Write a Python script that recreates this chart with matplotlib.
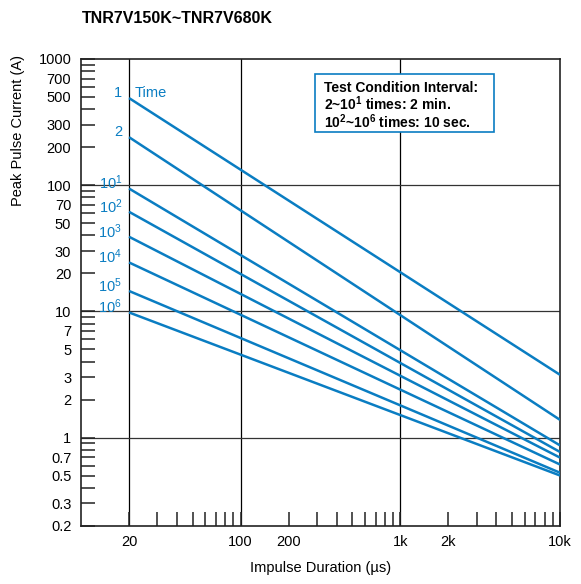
import matplotlib.pyplot as plt
import numpy as np
from matplotlib.patches import Rectangle
from matplotlib.ticker import FixedLocator, NullFormatter

plt.rcParams["font.family"] = ["Liberation Sans", "DejaVu Sans"]
plt.rcParams["mathtext.default"] = "regular"

# impulse duration end points (us)
durations = [20, 10000]
# number of times (curve labels)
curve_labels = ["1", "2", "10$^1$", "10$^2$", "10$^3$", "10$^4$", "10$^5$", "10$^6$"]
# peak pulse current (A) at 20 us and 10k us
current_start = [490, 240, 94, 61.5, 39, 24.4, 14.5, 9.8]
current_end = [3.14, 1.38, 0.866, 0.768, 0.693, 0.611, 0.526, 0.50]

x_ticks = [20, 100, 200, 1000, 2000, 10000]
x_ticklabels = ["20", "100", "200", "1k", "2k", "10k"]
x_minor = [30, 40, 50, 60, 70, 80, 90, 300, 400, 500, 600, 700, 800, 900,
           3000, 4000, 5000, 6000, 7000, 8000, 9000]
y_ticks = [0.2, 0.3, 0.5, 0.7, 1, 2, 3, 5, 7, 10, 20, 30, 50, 70, 100, 200, 300, 500, 700, 1000]
y_ticklabels = ["0.2", "0.3", "0.5", "0.7", "1", "2", "3", "5", "7", "10", "20", "30",
                "50", "70", "100", "200", "300", "500", "700", "1000"]
y_minor = [0.4, 0.6, 0.8, 0.9, 4, 6, 8, 9, 40, 60, 80, 90, 400, 600, 800, 900]
x_grid = [20, 100, 1000]
y_grid = [1, 10, 100]

note_lines = ["Test Condition Interval:", "2~10$^1$ times: 2 min.", "10$^2$~10$^6$ times: 10 sec."]

blue = "#0a7dc2"

fig = plt.figure(figsize=(5.81, 5.84), dpi=100)
ax = fig.add_axes([0.1394, 0.0998, 0.8245, 0.7992])
ax.set_xscale("log")
ax.set_yscale("log")
ax.set_xlim(10, 10000)
ax.set_ylim(0.2, 1000)

for v in x_grid:
    ax.axvline(v, color="black", lw=0.9, zorder=1)
for v in y_grid:
    ax.axhline(v, color="#333333", lw=0.9, zorder=1)

for s, e in zip(current_start, current_end):
    ax.plot(durations, [s, e], color=blue, lw=1.8, solid_capstyle="butt", zorder=3)

# curve labels left of the 20 us grid line
for lab, s in zip(curve_labels, current_start):
    ax.annotate(lab, (20, s), xytext=(-5, 4), textcoords="offset points",
                ha="right", va="center", color=blue, fontsize=10.5)
ax.annotate("Time", (20, current_start[0]), xytext=(4, 4), textcoords="offset points",
            ha="left", va="center", color=blue, fontsize=10.5)

ax.xaxis.set_major_locator(FixedLocator(x_ticks))
ax.set_xticklabels(x_ticklabels)
ax.xaxis.set_minor_locator(FixedLocator(x_minor))
ax.xaxis.set_minor_formatter(NullFormatter())
ax.yaxis.set_major_locator(FixedLocator(y_ticks))
ax.set_yticklabels(y_ticklabels)
ax.yaxis.set_minor_locator(FixedLocator(y_minor))
ax.yaxis.set_minor_formatter(NullFormatter())

ax.tick_params(which="both", direction="in", length=10, width=1.1, color="#222222",
               labelsize=10.5, top=False, right=False)
ax.tick_params(axis="x", which="major", pad=7)
ax.tick_params(axis="y", which="major", pad=7)

for sp in ax.spines.values():
    sp.set_linewidth(1.2)
    sp.set_color("#222222")

# note box
ax.add_patch(Rectangle((0.4885, 0.8427), 0.3735, 0.1253, transform=ax.transAxes,
                       facecolor="white", edgecolor=blue, linewidth=1.2, zorder=5))
for txt, yy in zip(note_lines, [0.929, 0.8907, 0.8532]):
    ax.text(0.507, yy, txt, transform=ax.transAxes, ha="left", va="baseline",
            fontsize=10, fontweight="bold", zorder=6)

fig.text(0.141, 0.968, "TNR7V150K~TNR7V680K", fontsize=11.5, fontweight="bold",
         ha="left", va="center")
fig.text(0.031, 0.777, "Peak Pulse Current (A)", rotation=90, fontsize=10.5,
         ha="center", va="center")
fig.text(0.551, 0.027, "Impulse Duration (\u00b5s)", fontsize=10.5, ha="center", va="center")

fig.savefig("out.png", dpi=100)
